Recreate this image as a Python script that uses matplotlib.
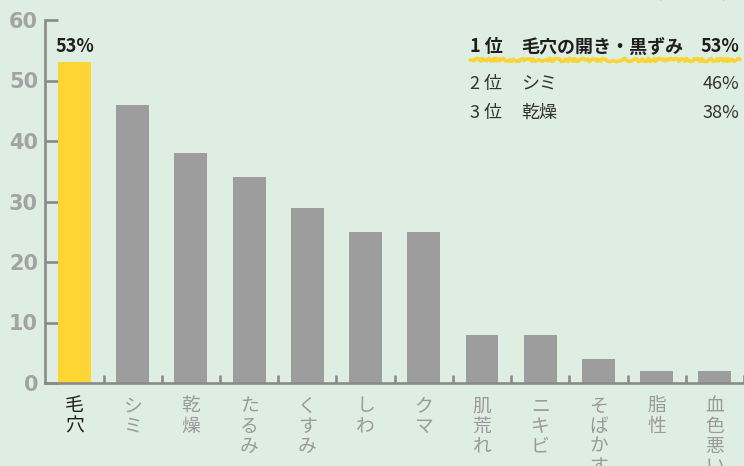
import matplotlib
matplotlib.use('Agg')
import matplotlib.pyplot as plt

plt.rcParams['font.family'] = ['Noto Sans CJK JP', 'DejaVu Sans']

# data
categories = ['毛穴', 'シミ', '乾燥', 'たるみ', 'くすみ', 'しわ', 'クマ',
              '肌荒れ', 'ニキビ', 'そばかす', '脂性', '血色悪い']
values = [53, 46, 38, 34, 29, 25, 25, 8, 8, 4, 2, 2]
y_ticks = [0, 10, 20, 30, 40, 50, 60]

rank_labels = ['1 位', '2 位', '3 位']
rank_items = ['毛穴の開き・黒ずみ', 'シミ', '乾燥']
rank_values = ['53%', '46%', '38%']

BG = '#dfeee3'
GRAY_BAR = '#9d9d9d'
YELLOW = '#fed532'
AXIS = '#8a8a8a'
W, H = 744, 466


def px(x, y):
    # pixel (from top-left) -> figure fraction
    return x / W, 1 - y / H


fig = plt.figure(figsize=(W / 100, H / 100), dpi=100, facecolor=BG)
ax = fig.add_axes([45 / W, 83 / H, (W - 45) / W, 363 / H])
ax.set_facecolor(BG)

x = list(range(len(categories)))
colors = [YELLOW] + [GRAY_BAR] * (len(categories) - 1)
ax.bar(x, values, width=0.566, color=colors, zorder=2)

ax.set_xlim(-0.506, 11.48)
ax.set_ylim(0, 60)

for side in ['top', 'right']:
    ax.spines[side].set_visible(False)
for side in ['left', 'bottom']:
    ax.spines[side].set_color(AXIS)
    ax.spines[side].set_linewidth(1.9)
    ax.spines[side].set_zorder(3)

ax.set_yticks(y_ticks)
ax.set_yticklabels([str(v) for v in y_ticks])
ax.tick_params(axis='y', direction='in', length=9.5, width=1.9, color=AXIS,
               labelsize=15, labelcolor='#a3a3a3', pad=5)
for lab in ax.get_yticklabels():
    lab.set_fontweight('bold')
    lab.set_family(['DejaVu Sans'])

# ticks between the bars, category labels in the middle
ax.set_xticks([i + 0.5 for i in x])
ax.set_xticklabels([])
ax.tick_params(axis='x', which='major', direction='in', length=6, width=1.9, color=AXIS)
ax.set_xticks(x, minor=True)
ax.set_xticklabels(['\n'.join(c) for c in categories], minor=True)
ax.tick_params(axis='x', which='minor', length=0, pad=9, labelsize=13.5)
for i, lab in enumerate(ax.get_xticklabels(minor=True)):
    lab.set_linespacing(0.95)
    lab.set_verticalalignment('top')
    lab.set_color('#1e1e1e' if i == 0 else '#9a9a9a')

# value on the first bar
ax.text(0, values[0] + 1.0, f'{values[0]}%', ha='center', va='bottom',
        fontsize=13, fontweight='bold', color='#1e1e1e')

# ranking box
rows_y = [47, 84, 113]
for i in range(3):
    bold = 'bold' if i == 0 else 'normal'
    col = '#1e1e1e' if i == 0 else '#333333'
    fig.text(*px(470, rows_y[i]), rank_labels[i], fontsize=13, fontweight=bold,
             color=col, va='center', ha='left')
    fig.text(*px(521, rows_y[i]), rank_items[i], fontsize=13, fontweight=bold,
             color=col, va='center', ha='left')
    fig.text(*px(739, rows_y[i]), rank_values[i], fontsize=13, fontweight=bold,
             color=col, va='center', ha='right')

line = plt.Line2D([470 / W, 740 / W], [1 - 60 / H, 1 - 60 / H], transform=fig.transFigure,
                  color='#f7d53a', linewidth=2.6, solid_capstyle='round')
line.set_sketch_params(scale=1.5, length=10, randomness=8)
fig.add_artist(line)

# caption cut off at the top edge
fig.text(*px(738, 3), '（複数回答）', fontsize=11, color='#777777', ha='right', va='bottom')

fig.savefig('out.png', dpi=100, facecolor=BG)
